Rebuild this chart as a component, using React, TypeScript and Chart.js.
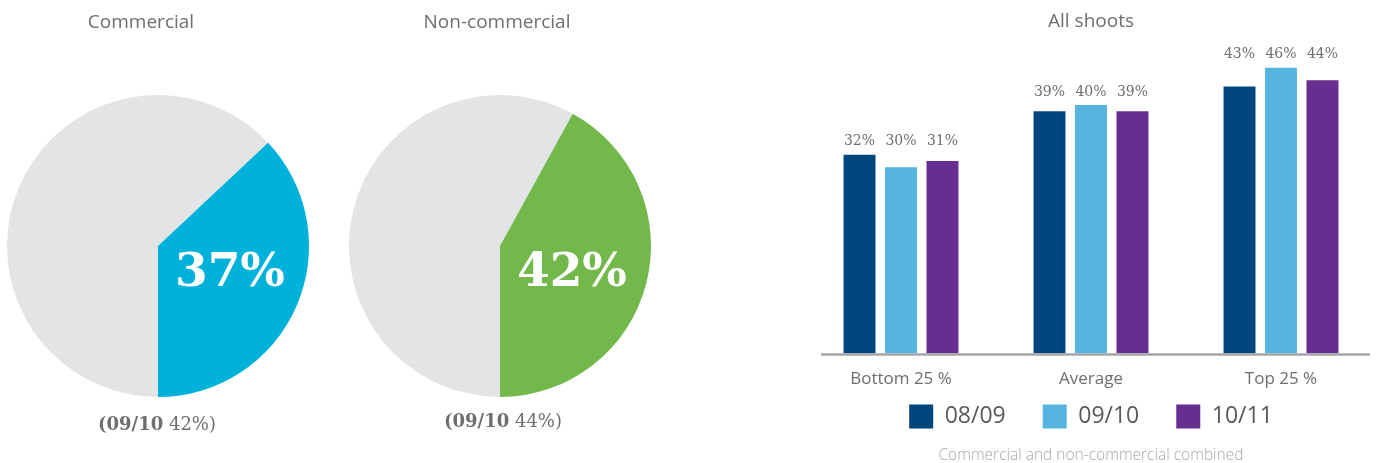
import React, { useEffect, useRef } from "react";
import { Chart, registerables } from "chart.js";

Chart.register(...registerables);

// ---------- data ----------
const pieTitles = ["Commercial", "Non-commercial"];
const pieSliceLabels = ["Rest", "Share"];
const commercialValues = [63, 37];
const nonCommercialValues = [58, 42];
const previousYear = "09/10";
const previousValues = [42, 44];

const barTitle = "All shoots";
const barCategories = ["Bottom 25 %", "Average", "Top 25 %"];
const seriesLabels = ["08/09", "09/10", "10/11"];
const series0809 = [32, 39, 43];
const series0910 = [30, 40, 46];
const series1011 = [31, 39, 44];
const barFootnote = "Commercial and non-commercial combined";

// ---------- styles ----------
const TEXT = "#6d6e71";
const SANS = '"Open Sans", sans-serif';
const SERIF = '"DejaVu Serif", serif';

type PieProps = {
  title: string;
  values: number[];
  colors: string[];
  prevValue: number;
  left: number;
  padLeft: number;
  titleX: number;
  subX: number;
  subY: number;
};

function PieChart(p: PieProps) {
  const ref = useRef<HTMLCanvasElement | null>(null);
  useEffect(() => {
    if (!ref.current) return;
    const textPlugin = {
      id: "pieText",
      afterDraw(chart: any) {
        const ctx = chart.ctx;
        const a = chart.chartArea;
        const cx = (a.left + a.right) / 2;
        const cy = (a.top + a.bottom) / 2;
        ctx.save();
        ctx.textBaseline = "middle";
        ctx.textAlign = "center";
        ctx.fillStyle = TEXT;
        ctx.font = `19px ${SANS}`;
        ctx.fillText(p.title, p.titleX, 23);
        // share label
        const share = chart.data.datasets[0].data[1];
        ctx.fillStyle = "#ffffff";
        ctx.font = `bold 47px ${SERIF}`;
        ctx.fillText(`${share}%`, cx + 72, cy + 28);
        // previous year label
        const fb = `bold 18px ${SERIF}`;
        const fr = `18px ${SERIF}`;
        const parts: [string, string][] = [
          ["(", fb],
          [previousYear, fb],
          [` ${p.prevValue}%)`, fr],
        ];
        let total = 0;
        for (const [t, f] of parts) {
          ctx.font = f;
          total += ctx.measureText(t).width;
        }
        let x = p.subX - total / 2;
        ctx.textAlign = "left";
        ctx.fillStyle = TEXT;
        for (const [t, f] of parts) {
          ctx.font = f;
          ctx.fillText(t, x, p.subY);
          x += ctx.measureText(t).width;
        }
        ctx.restore();
      },
    };
    const chart = new Chart(ref.current, {
      type: "pie",
      data: {
        labels: pieSliceLabels,
        datasets: [
          {
            data: p.values,
            backgroundColor: p.colors,
            borderWidth: 0,
            hoverOffset: 0,
          },
        ],
      },
      options: {
        responsive: false,
        animation: false,
        events: [],
        rotation: 180,
        layout: {
          padding: { left: p.padLeft, right: 340 - p.padLeft - 302, top: 95, bottom: 66 },
        },
        plugins: {
          legend: { display: false },
          tooltip: { enabled: false },
          title: { display: false },
        },
      },
      plugins: [textPlugin],
    } as any);
    return () => chart.destroy();
  }, []);
  return (
    <canvas
      ref={ref}
      width={340}
      height={463}
      style={{ position: "absolute", left: p.left, top: 0, width: 340, height: 463 }}
    />
  );
}

function BarChart() {
  const ref = useRef<HTMLCanvasElement | null>(null);
  useEffect(() => {
    if (!ref.current) return;
    const valueLabels = {
      id: "valueLabels",
      afterDatasetsDraw(chart: any) {
        const ctx = chart.ctx;
        ctx.save();
        ctx.font = `14px ${SERIF}`;
        ctx.fillStyle = TEXT;
        ctx.textAlign = "center";
        ctx.textBaseline = "middle";
        const n = chart.data.labels.length;
        for (let i = 0; i < n; i++) {
          let top = Infinity;
          chart.data.datasets.forEach((_: any, d: number) => {
            const el = chart.getDatasetMeta(d).data[i];
            top = Math.min(top, el.y);
          });
          chart.data.datasets.forEach((ds: any, d: number) => {
            const el = chart.getDatasetMeta(d).data[i];
            ctx.fillText(`${ds.data[i]}%`, el.x, top - 13);
          });
        }
        ctx.restore();
      },
    };
    const axisLine = {
      id: "axisLine",
      afterDatasetsDraw(chart: any) {
        const ctx = chart.ctx;
        const a = chart.chartArea;
        ctx.save();
        ctx.strokeStyle = "#a3a5a8";
        ctx.lineWidth = 2.5;
        ctx.beginPath();
        ctx.moveTo(a.left + 15, a.bottom + 1);
        ctx.lineTo(a.right - 6, a.bottom + 1);
        ctx.stroke();
        ctx.restore();
      },
    };
    const chart = new Chart(ref.current, {
      type: "bar",
      data: {
        labels: barCategories,
        datasets: [
          { label: seriesLabels[0], data: series0809, backgroundColor: "#00457b" },
          { label: seriesLabels[1], data: series0910, backgroundColor: "#55b5df" },
          { label: seriesLabels[2], data: series1011, backgroundColor: "#672d8f" },
        ],
      },
      options: {
        responsive: false,
        animation: false,
        events: [],
        datasets: {
          bar: { categoryPercentage: 0.655, barPercentage: 0.77, borderWidth: 0 },
        },
        layout: { padding: 0 },
        scales: {
          x: {
            grid: { display: false, drawTicks: false },
            border: { display: false },
            ticks: {
              font: { family: SANS, size: 17 },
              color: TEXT,
              mirror: true,
              padding: -36,
            },
            afterFit: (s: any) => {
              s.height = 14;
            },
          },
          y: { display: false, min: 0, max: 50 },
        },
        plugins: {
          tooltip: { enabled: false },
          title: {
            display: true,
            text: barTitle,
            font: { family: SANS, size: 19, weight: "normal", lineHeight: 1.2 },
            color: TEXT,
            padding: { top: 10.6, bottom: 9.6 },
          },
          subtitle: {
            display: true,
            position: "bottom",
            text: barFootnote,
            font: { family: SANS, size: 15.5, weight: "300", lineHeight: 1 },
            color: "#a5a7aa",
            padding: { top: 9, bottom: 0 },
          },
          legend: {
            position: "bottom",
            labels: {
              boxWidth: 24,
              boxHeight: 24,
              font: { family: SANS, size: 23 },
              color: "#58595b",
              padding: 37,
            },
          },
        },
      },
      plugins: [valueLabels, axisLine],
    } as any);
    return () => chart.destroy();
  }, []);
  return (
    <canvas
      ref={ref}
      width={570}
      height={463}
      style={{ position: "absolute", left: 806, top: 0, width: 570, height: 463 }}
    />
  );
}

export default function App() {
  return (
    <div
      style={{
        position: "absolute",
        left: 0,
        top: 0,
        width: 1376,
        height: 463,
        background: "#ffffff",
        overflow: "hidden",
      }}
    >
      <PieChart
        title={pieTitles[0]}
        values={commercialValues}
        colors={["#e3e4e6", "#00b1d9"]}
        prevValue={previousValues[0]}
        left={0}
        padLeft={7}
        titleX={141}
        subX={157}
        subY={425}
      />
      <PieChart
        title={pieTitles[1]}
        values={nonCommercialValues}
        colors={["#e3e4e6", "#72b84b"]}
        prevValue={previousValues[1]}
        left={340}
        padLeft={9}
        titleX={157}
        subX={163}
        subY={422}
      />
      <BarChart />
    </div>
  );
}
